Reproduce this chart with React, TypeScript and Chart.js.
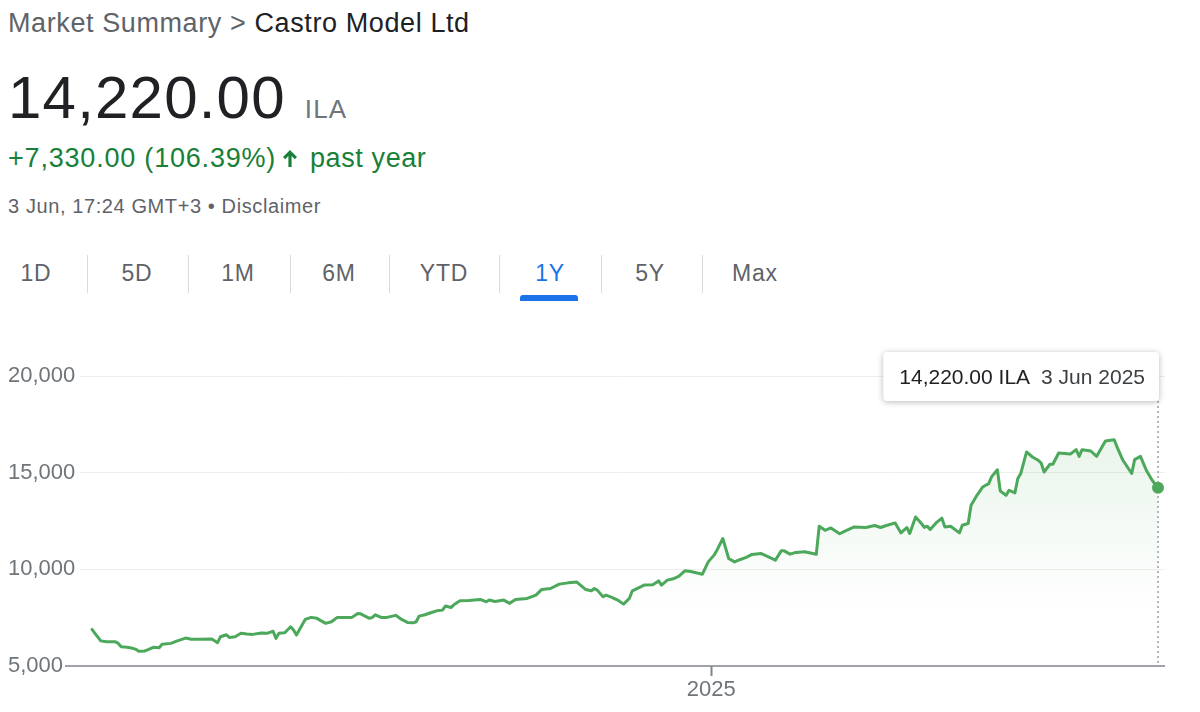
import React, { useEffect, useRef } from "react";
import { Chart, registerables } from "chart.js";

Chart.register(...registerables);

const FONT = "Arial, 'Liberation Sans', Helvetica, sans-serif";

// ---- data ----
const company = "Castro Model Ltd";
const currency = "ILA";
const startDate = "2024-06-03";
const changeAbs = 7330;
const changePct = 106.39;
const timestamp = "3 Jun, 17:24 GMT+3";
const tabs = ["1D", "5D", "1M", "6M", "YTD", "1Y", "5Y", "Max"];
const activeTab = "1Y";

// days since startDate (3 Jun 2024)
const dayOffsets = [
  0, 1, 3, 5, 8, 9, 10, 12, 14, 15, 16, 18, 19, 21, 23, 24, 27, 29, 32, 34,
  37, 41, 43, 44, 46, 47, 49, 51, 53, 55, 58, 60, 62, 63, 64, 66, 68, 69, 70, 73,
  75, 77, 80, 82, 84, 89, 91, 92, 95, 96, 97, 99, 101, 104, 106, 108, 110, 111, 112, 114,
  116, 118, 120, 121, 123, 124, 126, 129, 133, 135, 136, 138, 141, 143, 145, 149, 152, 154, 157, 160,
  163, 166, 169, 171, 172, 173, 175, 176, 178, 180, 182, 184, 185, 188, 189, 192, 194, 195, 197, 199,
  201, 203, 205, 209, 211, 213, 214, 216, 218, 220, 222, 224, 226, 229, 232, 234, 236, 237, 239, 241,
  244, 248, 249, 251, 253, 256, 258, 261, 265, 268, 270, 272, 275, 277, 279, 280, 282, 284, 285, 286,
  287, 289, 291, 292, 294, 297, 298, 300, 301, 303, 305, 306, 307, 308, 310, 311, 313, 314, 316, 317,
  318, 320, 322, 324, 325, 326, 328, 329, 331, 335, 337, 338, 339, 342, 344, 347, 350, 351, 353, 356,
  357, 359, 361, 363, 365,
];

const prices = [
  6890, 6690, 6300, 6255, 6255, 6170, 6000, 5965, 5915, 5860, 5760, 5775, 5830, 5965, 5945, 6120, 6170, 6290, 6445, 6380,
  6380, 6395, 6205, 6515, 6615, 6480, 6515, 6690, 6650, 6635, 6705, 6690, 6800, 6430, 6690, 6720, 7030, 6860, 6600, 7410,
  7515, 7465, 7205, 7290, 7515, 7515, 7720, 7700, 7465, 7515, 7650, 7515, 7515, 7620, 7410, 7255, 7235, 7290, 7580, 7650,
  7755, 7855, 7890, 8100, 8030, 8185, 8375, 8390, 8445, 8320, 8410, 8340, 8410, 8240, 8445, 8495, 8665, 8960, 9010, 9235,
  9300, 9340, 8960, 8890, 9010, 8925, 8580, 8665, 8550, 8410, 8200, 8495, 8890, 9100, 9185, 9200, 9400, 9185, 9440, 9510,
  9650, 9925, 9890, 9750, 10385, 10735, 10990, 11595, 10560, 10385, 10510, 10615, 10770, 10820, 10615, 10475, 10955, 10955, 10785, 10875,
  10905, 10785, 12230, 12020, 12140, 11840, 11990, 12195, 12165, 12265, 12165, 12265, 12400, 11885, 12165, 11855, 12710, 12370, 12165, 12230,
  12060, 12400, 12645, 12195, 12230, 11885, 12280, 12370, 13315, 13830, 14260, 14350, 14420, 14780, 15150, 14050, 13830, 14090, 13950, 14695,
  14955, 16070, 15810, 15640, 15500, 15035, 15435, 15435, 16015, 15965, 16190, 15845, 16190, 16120, 15845, 16635, 16705, 16325, 15640, 14955,
  15675, 15845, 15125, 14610, 14220,
];

const yTicks = [5000, 10000, 15000, 20000];
const xTickDays = [212];
const xTickLabels = ["2025"];

// ---- helpers ----
const MONTHS = ["Jan", "Feb", "Mar", "Apr", "May", "Jun", "Jul", "Aug", "Sep", "Oct", "Nov", "Dec"];
function dateFromOffset(days: number): Date {
  const d = new Date(startDate + "T00:00:00Z");
  d.setUTCDate(d.getUTCDate() + days);
  return d;
}
function fmtDate(d: Date): string {
  return `${d.getUTCDate()} ${MONTHS[d.getUTCMonth()]} ${d.getUTCFullYear()}`;
}
const fmt2 = (v: number) =>
  v.toLocaleString("en-US", { minimumFractionDigits: 2, maximumFractionDigits: 2 });

const LINE_GREEN = "#4ca85a";
const TEXT_GREEN = "#188038";
const lastIdx = prices.length - 1;
const lastPrice = prices[lastIdx];

const TOOLTIP_TOP = 52;
const TOOLTIP_H = 49;

const overlayPlugin = {
  id: "overlay",
  beforeDatasetsDraw(chart: any) {
    const { ctx, scales, chartArea } = chart;
    const x = scales.x;
    const y = scales.y;
    const px = x.getPixelForValue(dayOffsets[lastIdx]);
    const by = y.getPixelForValue(yTicks[0]);
    ctx.save();
    ctx.strokeStyle = "#80868b";
    ctx.lineWidth = 1.5;
    ctx.beginPath();
    ctx.moveTo(65, by);
    ctx.lineTo(chartArea.right, by);
    ctx.stroke();
    ctx.setLineDash([2, 3]);
    ctx.strokeStyle = "#9aa0a6";
    ctx.lineWidth = 1.5;
    ctx.beginPath();
    ctx.moveTo(px, TOOLTIP_TOP + TOOLTIP_H);
    ctx.lineTo(px, by);
    ctx.stroke();
    ctx.restore();
  },
  afterDraw(chart: any) {
    const { ctx, scales } = chart;
    const px = scales.x.getPixelForValue(dayOffsets[lastIdx]);
    const valueText = `${fmt2(lastPrice)} ${currency}`;
    const dateText = fmtDate(dateFromOffset(dayOffsets[lastIdx]));
    ctx.save();
    ctx.font = `21px ${FONT}`;
    const w1 = ctx.measureText(valueText).width;
    const w2 = ctx.measureText(dateText).width;
    const padL = 16, gap = 11, padR = 14;
    const bw = padL + w1 + gap + w2 + padR;
    const right = px + 1;
    const left = right - bw;
    const top = TOOLTIP_TOP;
    const h = TOOLTIP_H;
    const r = 4;
    ctx.shadowColor = "rgba(0,0,0,0.28)";
    ctx.shadowBlur = 6;
    ctx.shadowOffsetY = 1;
    ctx.fillStyle = "#ffffff";
    ctx.beginPath();
    ctx.moveTo(left + r, top);
    ctx.lineTo(right - r, top);
    ctx.quadraticCurveTo(right, top, right, top + r);
    ctx.lineTo(right, top + h - r);
    ctx.quadraticCurveTo(right, top + h, right - r, top + h);
    ctx.lineTo(left + r, top + h);
    ctx.quadraticCurveTo(left, top + h, left, top + h - r);
    ctx.lineTo(left, top + r);
    ctx.quadraticCurveTo(left, top, left + r, top);
    ctx.closePath();
    ctx.fill();
    ctx.shadowColor = "transparent";
    ctx.shadowBlur = 0;
    ctx.shadowOffsetY = 0;
    ctx.textBaseline = "alphabetic";
    ctx.textAlign = "left";
    ctx.fillStyle = "#202124";
    ctx.fillText(valueText, left + padL, top + 31.5);
    ctx.fillStyle = "#3c4043";
    ctx.fillText(dateText, left + padL + w1 + gap, top + 31.5);
    ctx.restore();
  },
};

function PriceChart() {
  const ref = useRef<HTMLCanvasElement | null>(null);
  useEffect(() => {
    if (!ref.current) return;
    Chart.defaults.font.family = FONT;
    const chart = new Chart(ref.current, {
      type: "line",
      data: {
        datasets: [
          {
            data: dayOffsets.map((d, i) => ({ x: d, y: prices[i] })),
            borderColor: LINE_GREEN,
            borderWidth: 3,
            borderJoinStyle: "round",
            borderCapStyle: "round",
            tension: 0,
            fill: "start",
            backgroundColor: (c: any) => {
              const { chart } = c;
              const area = chart.chartArea;
              if (!area) return "rgba(0,0,0,0)";
              const g = chart.ctx.createLinearGradient(0, area.top, 0, area.top + 235);
              g.addColorStop(0, "rgba(76,170,90,0.16)");
              g.addColorStop(1, "rgba(76,170,90,0)");
              return g;
            },
            pointRadius: (c: any) => (c.dataIndex === lastIdx ? 6 : 0),
            pointBackgroundColor: LINE_GREEN,
            pointBorderWidth: 0,
            pointHoverRadius: 0,
          } as any,
        ],
      },
      options: {
        animation: false,
        responsive: false,
        events: [],
        layout: { padding: { left: 8, right: 35, top: 76, bottom: 0 } },
        plugins: { legend: { display: false }, tooltip: { enabled: false } },
        scales: {
          x: {
            type: "linear",
            min: -4.11,
            max: 367.4,
            afterFit: (s: any) => {
              s.height = 46;
            },
            afterBuildTicks: (axis: any) => {
              axis.ticks = xTickDays.map((v) => ({ value: v }));
            },
            ticks: {
              autoSkip: false,
              maxRotation: 0,
              padding: 1,
              color: "#70757a",
              font: { size: 22, family: FONT },
              callback: (v: any) => {
                const i = xTickDays.indexOf(Number(v));
                return i >= 0 ? xTickLabels[i] : "";
              },
            },
            grid: {
              drawOnChartArea: false,
              drawTicks: true,
              tickLength: 10,
              tickColor: "#80868b",
              tickWidth: 2,
            },
            border: { display: false },
          },
          y: {
            type: "linear",
            min: yTicks[0],
            max: yTicks[yTicks.length - 1],
            afterFit: (s: any) => {
              s.width = 72;
            },
            afterBuildTicks: (axis: any) => {
              axis.ticks = yTicks.map((v) => ({ value: v }));
            },
            ticks: {
              crossAlign: "far",
              color: "#70757a",
              font: { size: 22, family: FONT },
              callback: (v: any) => Number(v).toLocaleString("en-US"),
            },
            grid: {
              drawTicks: false,
              color: (c: any) => (c.tick && c.tick.value === yTicks[0] ? "rgba(0,0,0,0)" : "#eeeeee"),
              lineWidth: 1,
            },
            border: { display: false },
          },
        },
      },
      plugins: [overlayPlugin],
    });
    return () => chart.destroy();
  }, []);
  return (
    <canvas
      ref={ref}
      width={1200}
      height={412}
      style={{ position: "absolute", left: 0, top: 300, width: 1200, height: 412 }}
    />
  );
}

const tabCenters = [36, 137, 238, 339, 444, 550, 650, 755];
const separatorsX = [87, 188, 290, 389, 499, 601, 702];

export default function App() {
  const abs = (left: number, top: number, extra: React.CSSProperties = {}): React.CSSProperties => ({
    position: "absolute",
    left,
    top,
    lineHeight: 1,
    whiteSpace: "nowrap",
    fontFamily: FONT,
    ...extra,
  });
  const activeIdx = tabs.indexOf(activeTab);
  return (
    <div style={{ position: "absolute", left: 0, top: 0, width: 1200, height: 712, background: "#fff", overflow: "hidden" }}>
      <div style={abs(8, 9.5, { fontSize: 27, letterSpacing: 0.6 })}>
        <span style={{ color: "#5f6368" }}>Market Summary &gt; </span>
        <span style={{ color: "#202124" }}>{company}</span>
      </div>
      <div style={abs(8, 67.5, { fontSize: 60, letterSpacing: 1.2, color: "#202124" })}>
        {fmt2(lastPrice)}
        <span style={{ fontSize: 26, color: "#70757a", marginLeft: 19, letterSpacing: 1.2 }}>{currency}</span>
      </div>
      <div style={abs(8, 144.5, { fontSize: 27, letterSpacing: 0.8, color: TEXT_GREEN })}>
        {`+${fmt2(changeAbs)} (${changePct.toFixed(2)}%)`}
      </div>
      <svg style={{ position: "absolute", left: 283, top: 150 }} width={14} height={17} viewBox="0 0 14 17">
        <polygon
          points="7,0 14,7 11.8,9.2 8.6,6 8.6,17 5.4,17 5.4,6 2.2,9.2 0,7"
          fill={TEXT_GREEN}
        />
      </svg>
      <div style={abs(310, 144.5, { fontSize: 27, letterSpacing: 0.6, color: TEXT_GREEN })}>past year</div>
      <div style={abs(8, 196.4, { fontSize: 20, letterSpacing: 0.6, color: "#5f6368" })}>
        {timestamp} • Disclaimer
      </div>
      {tabs.map((t, i) => (
        <div
          key={t}
          style={abs(tabCenters[i] - 50, 262, {
            width: 100,
            textAlign: "center",
            fontSize: 23,
            letterSpacing: 0.8,
            color: i === activeIdx ? "#1a73e8" : "#5f6368",
          })}
        >
          {t}
        </div>
      ))}
      {separatorsX.map((x) => (
        <div key={x} style={{ position: "absolute", left: x, top: 255, width: 1, height: 38, background: "#dadce0" }} />
      ))}
      <div
        style={{
          position: "absolute",
          left: 520,
          top: 295,
          width: 58,
          height: 6,
          background: "#1a73e8",
          borderRadius: "3px 3px 0 0",
        }}
      />
      <PriceChart />
    </div>
  );
}
